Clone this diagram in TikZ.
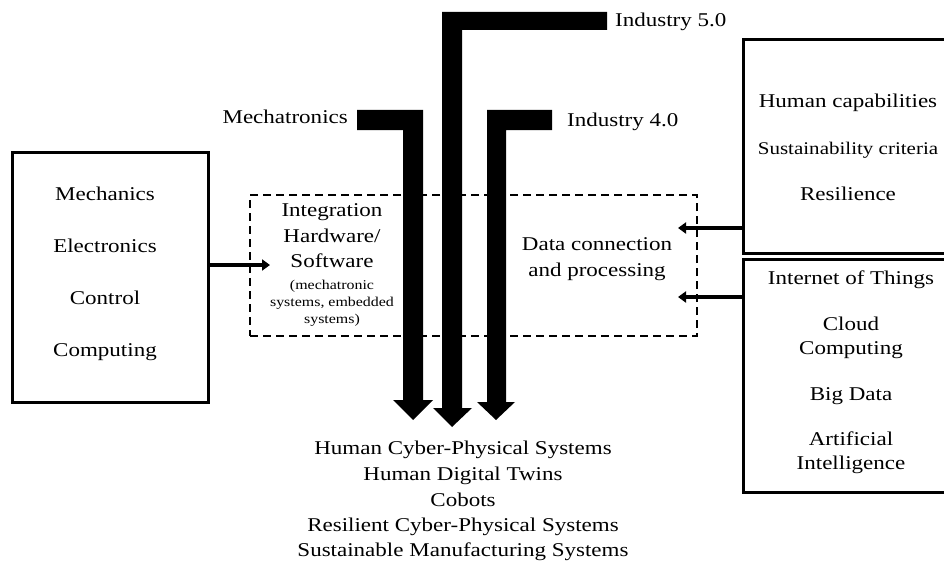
\documentclass[tikz,border=0pt]{standalone}
\usepackage{fontspec}
\setmainfont{Liberation Serif}[FakeStretch=1.18]
\usetikzlibrary{arrows.meta}
\begin{document}
\begin{tikzpicture}[x=1pt,y=-1pt,
  lbl/.style={font=\fontsize{19.5}{25.5}\selectfont, inner sep=0pt, text height=1.0em, text depth=0.05em},
  small/.style={font=\fontsize{13.5}{17.5}\selectfont, inner sep=0pt, text height=0.9em, text depth=0.1em},
  box/.style={draw, line width=3pt, inner sep=0pt},
  dbox/.style={draw, dash pattern=on 8pt off 5pt, line width=1.2pt, inner sep=0pt},
  bigarrow/.style={fill=black},
  conn/.style={line width=4pt, -{Triangle[length=8pt,width=11pt]}}]
\useasboundingbox (0,0) rectangle (944,567);
\clip (0,0) rectangle (944,567);

% boxes
\node[box, minimum width=196pt, minimum height=250pt] (lbox) at (110,277) {};
\node[dbox, minimum width=447pt, minimum height=141pt] (dbox) at (473.5,265.5) {};
\node[box, minimum width=205pt, minimum height=213pt] (rtop) at (845.5,146.5) {};
\node[box, minimum width=205pt, minimum height=233pt] (rbot) at (845.5,375.5) {};

% left box text
\node[lbl] (t1) at (105,196) {Mechanics};
\node[lbl] (t2) at (105,248) {Electronics};
\node[lbl] (t3) at (105,300) {Control};
\node[lbl] (t4) at (105,352) {Computing};

% dashed box text
\node[lbl] (i1) at (332,212) {Integration};
\node[lbl] (i2) at (332,238) {Hardware/};
\node[lbl] (i3) at (332,263) {Software};
\node[small] (s1) at (332,285) {(mechatronic};
\node[small] (s2) at (332,302) {systems, embedded};
\node[small] (s3) at (332,319) {systems)};
\node[lbl] (d1) at (597,246) {Data connection};
\node[lbl] (d2) at (597,272) {and processing};

% right top text
\node[lbl] (h1) at (848,103) {Human capabilities};
\node[lbl, font=\fontsize{17.8}{25.5}\selectfont] (h2) at (848,150) {Sustainability criteria};
\node[lbl] (h3) at (848,196) {Resilience};

% right bottom text
\node[lbl] (b1) at (851,280) {Internet of Things};
\node[lbl] (b2) at (851,326) {Cloud};
\node[lbl] (b3) at (851,350) {Computing};
\node[lbl] (b4) at (851,396) {Big Data};
\node[lbl] (b5) at (851,441) {Artificial};
\node[lbl] (b6) at (851,465) {Intelligence};

% bottom text
\node[lbl] (o1) at (463,450) {Human Cyber-Physical Systems};
\node[lbl] (o2) at (463,476) {Human Digital Twins};
\node[lbl] (o3) at (463,502) {Cobots};
\node[lbl] (o4) at (463,527) {Resilient Cyber-Physical Systems};
\node[lbl] (o5) at (463,552) {Sustainable Manufacturing Systems};

% arrow labels
\node[lbl, anchor=east] (mt) at (348,119) {Mechatronics};
\node[lbl, anchor=west] (i4) at (567,122) {Industry 4.0};
\node[lbl, anchor=west] (i5) at (615,22) {Industry 5.0};

% big bent arrows
\fill[bigarrow] (357,110) -- (423,110) -- (423,400) -- (433,400) -- (413,420)
  -- (393,400) -- (403,400) -- (403,130) -- (357,130) -- cycle;
\fill[bigarrow] (442,12) -- (607,12) -- (607,30) -- (462,30) -- (462,408)
  -- (472,408) -- (452,427) -- (433,408) -- (442,408) -- cycle;
\fill[bigarrow] (487,110) -- (552,110) -- (552,130) -- (506,130) -- (506,402)
  -- (515,402) -- (496,420) -- (477,402) -- (487,402) -- cycle;

% connectors
\coordinate (a1) at (270,265);
\coordinate (r1) at (678,228);
\coordinate (r2) at (678,297);
\draw[conn] (lbox.east |- a1) -- (a1);
\draw[conn] (rtop.west |- r1) -- (r1);
\draw[conn] (rbot.west |- r2) -- (r2);
\end{tikzpicture}
\end{document}
